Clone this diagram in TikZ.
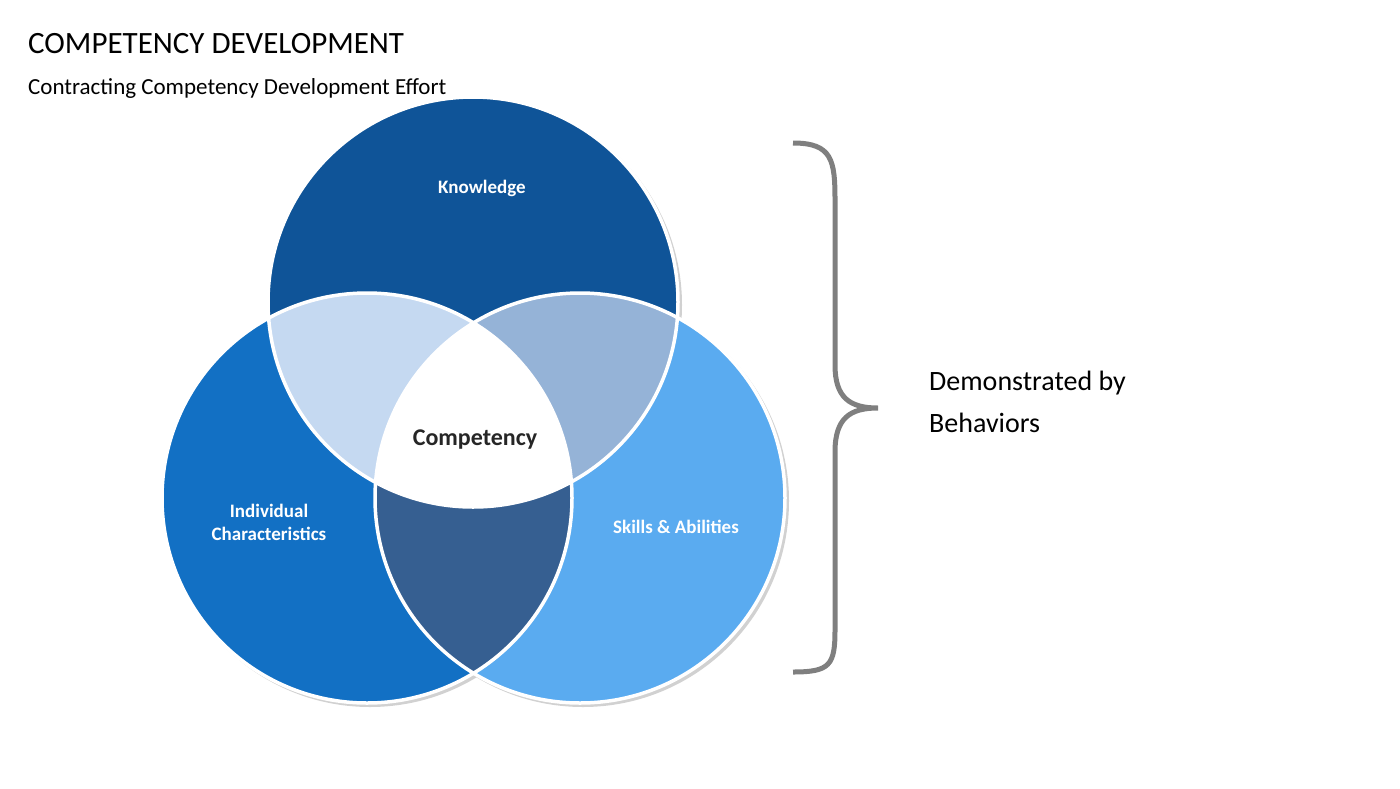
\documentclass[tikz,border=0pt]{standalone}
\usepackage{fontspec}
\setmainfont{Carlito}
\begin{document}
\begin{tikzpicture}[x=1pt,y=-1pt,
  lbl/.style={text=white,font=\bfseries\fontsize{19}{23}\selectfont,align=center},
  ring/.style={draw=white,line width=3.5pt}]
\useasboundingbox (0,0) rectangle (1400,788);
\definecolor{cT}{HTML}{0F5498}
\definecolor{cL}{HTML}{1270C4}
\definecolor{cR}{HTML}{5AABF0}
\definecolor{cTL}{HTML}{C5D9F1}
\definecolor{cTR}{HTML}{95B3D7}
\definecolor{cLR}{HTML}{365F91}
\definecolor{br}{HTML}{7F7F7F}
\def\T{(473,302) circle[radius=205]}
\def\L{(367,498) circle[radius=205]}
\def\R{(580,498) circle[radius=205]}
% shadows
\fill[black!18] (476,305) circle[radius=206];
\fill[black!18] (370,501) circle[radius=206];
\fill[black!18] (583,501) circle[radius=206];
\fill[cT] \T; \fill[cL] \L; \fill[cR] \R;
\begin{scope}\clip \T; \fill[cTL] \L; \end{scope}
\begin{scope}\clip \T; \fill[cTR] \R; \end{scope}
\begin{scope}\clip \L; \fill[cLR] \R; \end{scope}
\begin{scope}\clip \T; \clip \L; \fill[white] \R; \end{scope}
\draw[ring] \T; \draw[ring] \L; \draw[ring] \R;
\node[lbl] (k) at (482,188) {Knowledge};
\node[lbl] (ic) at (269,522) {Individual\\Characteristics};
\node[lbl] (sa) at (676,527) {Skills \& Abilities};
\node[font=\bfseries\fontsize{24}{28}\selectfont,text=black!85] (c) at (475,440) {Competency};
\node[anchor=west,font=\fontsize{31}{36}\selectfont,inner sep=0] (t) at (28,44) {COMPETENCY DEVELOPMENT};
\node[anchor=west,font=\fontsize{23}{28}\selectfont,inner sep=0] (st) at (28,88) {Contracting Competency Development Effort};
\node[anchor=west,align=left,font=\fontsize{28}{42}\selectfont,inner sep=0] (d) at (929,402) {Demonstrated by\\Behaviors};
\coordinate (b1) at (793,143); \coordinate (b2) at (878,408); \coordinate (b3) at (793,672);
\draw[br,line width=5pt] (b1) .. controls (832,143) and (835,160) .. (835,200) -- (835,365)
  .. controls (835,398) and (850,408) .. (b2)
  .. controls (850,408) and (835,418) .. (835,452) -- (835,630)
  .. controls (835,665) and (830,672) .. (b3);
\end{tikzpicture}
\end{document}
